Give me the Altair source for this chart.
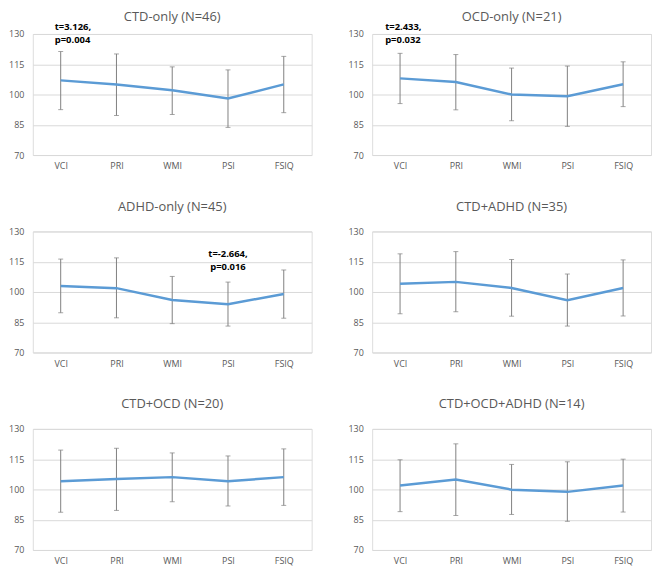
import altair as alt
import pandas as pd

categories = ["VCI", "PRI", "WMI", "PSI", "FSIQ"]
titles = ["CTD-only (N=46)", "OCD-only (N=21)", "ADHD-only (N=45)",
          "CTD+ADHD (N=35)", "CTD+OCD (N=20)", "CTD+OCD+ADHD (N=14)"]
means = [
    [107.0, 105.0, 102.1, 98.0, 105.0],
    [108.0, 106.2, 100.0, 99.1, 105.1],
    [103.0, 101.9, 96.0, 93.9, 99.0],
    [104.1, 105.0, 102.0, 95.9, 102.0],
    [104.1, 105.2, 106.1, 104.1, 106.1],
    [101.9, 104.9, 99.9, 98.8, 101.9],
]
upper = [
    [121.3, 120.1, 113.7, 112.2, 118.9],
    [120.4, 119.8, 113.1, 114.1, 116.2],
    [116.3, 116.9, 107.7, 104.9, 110.9],
    [118.9, 120.0, 116.1, 108.9, 115.9],
    [119.5, 120.4, 118.1, 116.6, 120.1],
    [114.7, 122.6, 112.4, 113.7, 115.0],
]
lower = [
    [92.5, 89.6, 90.1, 83.7, 91.0],
    [95.5, 92.4, 87.0, 84.2, 94.0],
    [89.7, 87.2, 84.3, 83.1, 87.0],
    [89.2, 90.2, 88.0, 83.1, 88.1],
    [88.7, 89.6, 93.9, 91.8, 92.1],
    [89.0, 87.1, 87.6, 84.2, 88.8],
]
y_ticks = [70, 85, 100, 115, 130]

# annotations: panel index, category, text, top-of-text value
annot_panel = [0, 1, 2]
annot_cat = ["VCI", "VCI", "PSI"]
annot_text = ["t=3.126,\np=0.004", "t=2.433,\np=0.032", "t=-2.664,\np=0.016"]
annot_top = [136.0, 136.0, 121.4]
annot_align = ["left", "left", "center"]
annot_dx = [-6, -15, 0]

FONT = "Open Sans"
GRAY = "#595959"
W, H = 281, 122


def panel(i):
    df = pd.DataFrame({"cat": categories, "mean": means[i],
                       "lo": lower[i], "hi": upper[i]})
    x = alt.X("cat:N", sort=categories,
              scale=alt.Scale(type="point", padding=0.5),
              axis=alt.Axis(title=None, labelAngle=0, domain=False, ticks=False,
                            grid=False, labelPadding=7, labelFontSize=9,
                            labelColor=GRAY, labelFont=FONT))
    ysc = alt.Scale(domain=[70, 130], nice=False, zero=False)
    yax = alt.Axis(title=None, values=y_ticks, grid=True, gridColor="#d9d9d9",
                   domain=False, ticks=False, labelPadding=9, labelFontSize=9,
                   labelColor=GRAY, labelFont=FONT, labelOverlap=False)

    def Y(f):
        return alt.Y(f, scale=ysc, axis=yax)

    base = alt.Chart(df).encode(x=x)
    rule = base.mark_rule(color="#808080", strokeWidth=1).encode(
        y=Y("lo:Q"), y2="hi:Q")
    cap_lo = base.mark_tick(color="#808080", size=5, thickness=1,
                            orient="horizontal").encode(y=Y("lo:Q"))
    cap_hi = base.mark_tick(color="#808080", size=5, thickness=1,
                            orient="horizontal").encode(y=Y("hi:Q"))
    line = base.mark_line(color="#5B9BD5", strokeWidth=2.5).encode(y=Y("mean:Q"))
    layers = [rule, cap_lo, cap_hi, line]
    top_annot = False
    for k, p in enumerate(annot_panel):
        if p == i:
            if annot_top[k] > 130:
                top_annot = True
            adf = pd.DataFrame({"cat": [annot_cat[k]], "y": [annot_top[k]],
                                "t": [annot_text[k]]})
            txt = alt.Chart(adf).mark_text(
                lineBreak="\n", align=annot_align[k], baseline="top",
                dx=annot_dx[k], fontWeight="bold", fontSize=9.5, font=FONT,
                color="black", lineHeight=13).encode(
                x=alt.X("cat:N", sort=categories), y=Y("y:Q"), text="t:N")
            layers.append(txt)
    return alt.layer(*layers).properties(
        width=W, height=H,
        title=alt.TitleParams(titles[i], fontSize=13, font=FONT, color=GRAY,
                              fontWeight="normal",
                              offset=-2 if top_annot else 14))


rows = []
for r in range(3):
    rows.append(alt.hconcat(panel(2 * r), panel(2 * r + 1), spacing=35))

chart = alt.vconcat(*rows, spacing=28).properties(padding=0).configure_view(
    stroke=None).configure(background="white")

chart.save("out.html", embed_options={"renderer": "svg", "actions": False})
